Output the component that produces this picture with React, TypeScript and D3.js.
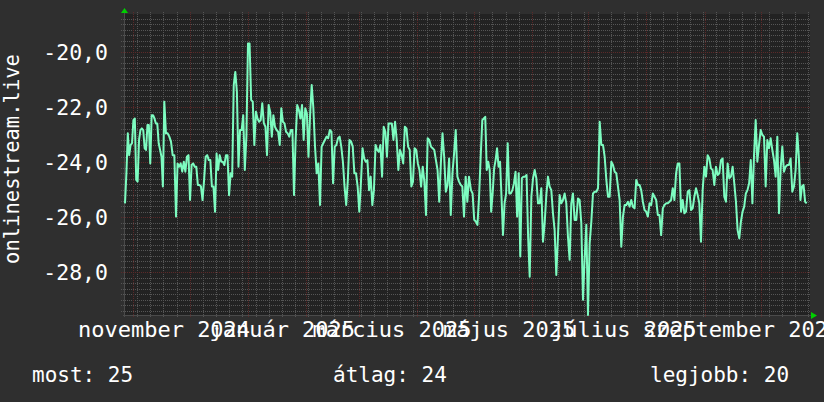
import React from "react";
import * as d3 from "d3";

const W = 824;
const H = 402;

const yMajorTicks = [-28, -26, -24, -22, -20];
const yTickLabels = ["-28,0", "-26,0", "-24,0", "-22,0", "-20,0"];
const xLabels = ["november 2024", "január 2025", "március 2025", "május 2025", "július 2025", "szeptember 2025"];
// label centre times (UTC): [year, month, day, hour]
const xLabelTimes = [
  [2024, 10, 17, 7],
  [2025, 0, 19, 5],
  [2025, 2, 18, 14],
  [2025, 4, 19, 22],
  [2025, 6, 19, 22],
  [2025, 8, 20, 17],
];
const legendItems = ["most: 25", "átlag: 24", "legjobb: 20"];
const yTitle = "onlinestream.live";

const seriesA = [
  -25.5, -24.41, -22.96, -23.75, -23.38, -23.32, -22.48, -22.42, -24.65, -24.71,
  -23.2, -22.84, -22.78, -22.84, -23.5, -23.56, -22.66, -22.66, -24.05, -22.3,
  -22.3, -22.42, -22.6, -22.6, -23.32, -23.56, -23.81, -24.89, -21.81, -22.96,
  -22.96, -23.08, -23.26, -23.75, -23.75, -25.98, -24.05, -24.17, -24.05, -24.35,
  -23.99, -24.35, -23.81, -23.75, -25.38, -24.11, -24.05, -24.17, -24.17, -24.83,
  -24.83, -24.89, -25.38, -24.65, -23.81, -23.75, -23.93, -23.93, -24.89, -24.89,
  -25.8, -23.69, -24.29, -23.75, -23.99, -23.99, -24.11, -23.75, -23.75, -25.2,
  -24.41, -24.53, -21.21, -20.73, -21.45, -24.17, -22.84, -22.84, -22.3, -24.29,
  -23.08, -19.7, -19.7, -21.75, -21.81, -23.38, -22.18, -22.42, -22.54, -22.48,
  -21.87, -22.6, -22.72, -23.75, -21.93, -22.18, -23.08, -22.3, -22.72, -22.84,
  -22.9, -23.38, -22.05, -22.54, -22.6, -22.9, -22.96, -23.08, -22.84, -22.84,
  -25.2, -23.2, -21.93, -22.11, -22.42, -21.93, -23.2, -22.05, -22.24, -23.81,
  -22.3, -21.21, -22.05, -23.44, -24.41, -24.05, -25.56, -23.44, -23.32, -23.2,
  -23.08, -23.14, -22.84, -22.9, -24.77, -23.44, -23.38, -23.14, -23.08, -23.44,
  -23.99, -24.89, -25.56, -24.65, -23.2, -23.26, -23.44, -24.41, -24.41, -24.89,
  -25.8, -24.77, -23.5, -23.87, -23.99, -23.93, -25.02, -24.53, -25.56, -25.02,
  -23.38, -23.56, -23.63, -23.38, -24.53, -22.72, -22.9, -23.81, -22.6, -22.6,
  -22.6, -23.2, -22.54, -23.2, -24.29, -23.56, -23.75, -24.05, -22.72, -22.78,
  -23.44, -23.56, -24.89, -24.71, -23.5, -23.56, -24.05, -24.29, -24.89, -24.17,
  -24.71, -25.92, -23.14, -23.2, -23.44, -23.5, -23.56, -23.93, -24.29, -25.44,
  -24.05, -22.96, -23.81, -25.08, -24.83, -23.87, -25.92, -24.41, -23.69, -22.84,
  -24.53, -24.71, -24.83, -24.89, -25.98, -24.53, -25.44, -24.53,
];

const seriesB = [
  -25.02, -25.14, -26.1, -26.16, -26.28, -25.26, -23.81, -22.48, -22.42, -22.36,
  -24.29, -23.99, -24.29, -25.8, -25.14, -24.23, -23.93, -23.5, -24.17, -23.99,
  -25.26, -26.65, -25.5, -25.14, -23.32, -25.14, -25.14, -25.02, -24.77, -24.35,
  -25.98, -24.41, -27.43, -24.59, -24.53, -24.53, -24.47, -26.71, -28.16, -25.26,
  -24.59, -24.29, -24.59, -25.5, -25.5, -24.95, -26.89, -26.22, -25.2, -24.53,
  -24.89, -25.02, -25.86, -26.47, -28.1, -26.71, -25.2, -25.5, -25.38, -25.14,
  -25.5, -26.71, -27.55, -25.5, -25.14, -26.1, -26.1, -25.32, -25.38, -26.22,
  -29.0, -27.49, -26.28, -29.55, -26.95, -26.16, -25.14, -25.08, -25.08, -24.95,
  -22.54, -23.38, -23.38, -23.81, -24.65, -25.26, -25.26, -23.99, -24.11, -24.35,
  -24.41, -24.89, -25.38, -27.07, -25.98, -25.56, -25.56, -25.44, -25.62, -25.38,
  -25.62, -25.68, -24.65, -24.83, -24.83, -25.02, -25.44, -25.74, -25.8, -25.98,
  -25.5, -25.56, -25.14, -25.26, -25.38, -25.92, -25.92, -26.65, -25.68, -25.56,
  -25.5, -25.5, -25.44, -25.38, -24.95, -25.38, -24.41, -24.05, -24.05, -25.8,
  -25.38, -25.86, -25.8, -25.08, -25.02, -25.74, -25.68, -25.26, -24.95, -25.2,
  -25.5, -26.89, -25.02, -24.17, -24.53, -23.75, -23.87, -24.23, -24.29, -24.83,
  -24.17, -24.47, -24.41, -23.93, -23.87, -25.26, -25.44, -24.05, -24.59, -24.53,
  -24.17, -24.77, -25.44, -26.47, -26.77, -26.16, -25.8, -25.62, -25.14, -25.02,
  -24.77, -23.93, -25.5, -23.75, -22.48, -23.99, -23.38, -22.84, -23.02, -23.08,
  -24.89, -23.2, -23.5, -23.14, -23.56, -23.93, -24.53, -23.08, -25.86, -24.23,
  -23.44, -24.35, -24.17, -24.11, -24.11, -23.87, -25.08, -24.89, -24.29, -22.96,
  -23.81, -25.38, -24.89, -24.83, -25.44, -25.5,
];

// sample timing: sample index -> days after 2024-10-27 00:00 UTC
const anchorIndex = [0, 28, 35, 73, 81, 110, 121, 126, 150, 191, 214, 217, 218, 225, 239, 256, 272, 291, 298, 311, 359, 382, 392, 406, 417, 423];
const anchorDay = [0.53, 21.44, 27.67, 59.22, 65.97, 90.45, 99.87, 104.28, 125.19, 160.68, 180.9, 183.56, 184.62, 190.64, 201.65, 215.86, 230.01, 246.87, 253.1, 264.59, 307.0, 327.37, 336.1, 348.5, 358.23, 363.23];

const FONT = "'DejaVu Sans Mono', monospace";
const BG = "#2f2f2f";
const PLOT_BG = "#222222";
const MINOR = "#555555";
const MAJOR = "#5c2929";
const LINE = "#7dfcc0";
const ARROW = "#00d000";
const DAY = 86400000;

export default function App() {
  const left = 124;
  const right = 810;
  const top = 14;
  const bottom = 315;

  const t0 = Date.UTC(2024, 9, 27);
  const x = d3
    .scaleUtc()
    .domain([new Date(t0), new Date(Date.UTC(2025, 9, 27))])
    .range([left, right]);
  const y = d3.scaleLinear().domain([-29.55, -18.63]).range([bottom, top]);
  const idxToDay = d3.scaleLinear().domain(anchorIndex).range(anchorDay);

  const values = [...seriesA, ...seriesB];
  const pts = values.map((v, i) => ({ t: new Date(t0 + idxToDay(i) * DAY), v }));
  const line = d3
    .line<{ t: Date; v: number }>()
    .x((d) => x(d.t))
    .y((d) => y(d.v));

  const [d0, d1] = x.domain();
  const weeks = d3.utcSunday.range(d0, d1);
  const months = d3.utcMonth.range(d3.utcDay.offset(d0, 1), d1);

  const minorY: number[] = [];
  for (let k = -147; k <= -94; k++) {
    if (k % 10 !== 0) minorY.push(k / 5);
  }

  const px = (v: number) => Math.round(v) + 0.5;

  return (
    <svg
      width={W}
      height={H}
      style={{ position: "absolute", left: 0, top: 0, display: "block" }}
      fontFamily={FONT}
    >
      <rect x={0} y={0} width={W} height={H} fill={BG} />
      <rect x={left} y={top} width={right - left} height={bottom - top} fill={PLOT_BG} />

      <g shapeRendering="crispEdges" strokeWidth={1}>
        {minorY.map((v) => (
          <line
            key={"hy" + v}
            x1={left - 3}
            x2={right}
            y1={px(y(v))}
            y2={px(y(v))}
            stroke={MINOR}
            strokeDasharray="1,1"
          />
        ))}
        {weeks.map((d) => (
          <line
            key={"wx" + +d}
            x1={px(x(d))}
            x2={px(x(d))}
            y1={top - 2}
            y2={bottom + 2}
            stroke={MINOR}
            strokeDasharray="1,1"
          />
        ))}
        {yMajorTicks.map((v) => (
          <line
            key={"my" + v}
            x1={left - 3}
            x2={right}
            y1={px(y(v))}
            y2={px(y(v))}
            stroke={MAJOR}
            strokeDasharray="1,1"
          />
        ))}
        {months.map((d) => (
          <line
            key={"mx" + +d}
            x1={px(x(d))}
            x2={px(x(d))}
            y1={top - 2}
            y2={bottom + 3}
            stroke={MAJOR}
            strokeDasharray="1,1"
          />
        ))}
        <line x1={left - 1} x2={right + 2} y1={bottom + 0.5} y2={bottom + 0.5} stroke="#4a4a4a" />
        <line x1={left + 0.5} x2={left + 0.5} y1={top - 2} y2={bottom + 2} stroke="#4a4a4a" />
      </g>

      <path
        d={line(pts) || ""}
        fill="none"
        stroke={LINE}
        strokeWidth={2}
        strokeLinejoin="round"
      />

      <path d={`M${left - 3},${top - 1}L${left + 4},${top - 1}L${left + 0.5},${top - 6}Z`} fill={ARROW} />
      <path d={`M${right + 1},${bottom - 3}L${right + 1},${bottom + 4}L${right + 7},${bottom + 0.5}Z`} fill={ARROW} />

      <g fill="#ffffff">
        {yMajorTicks.map((v, i) => (
          <text key={"yl" + v} x={108} y={y(v) + 8} textAnchor="end" fontSize={21.5}>
            {yTickLabels[i]}
          </text>
        ))}
        {xLabelTimes.map(([yr, m, dd, hh], i) => (
          <text
            key={"xl" + i}
            x={x(new Date(Date.UTC(yr, m, dd, hh)))}
            y={337}
            textAnchor="middle"
            fontSize={22}
          >
            {xLabels[i]}
          </text>
        ))}
        <text x={32} y={382} fontSize={21}>{legendItems[0]}</text>
        <text x={333} y={382} fontSize={21}>{legendItems[1]}</text>
        <text x={650} y={382} fontSize={21}>{legendItems[2]}</text>
        <text transform="translate(18.5,159) rotate(-90)" textAnchor="middle" fontSize={20.5}>
          {yTitle}
        </text>
      </g>
    </svg>
  );
}
